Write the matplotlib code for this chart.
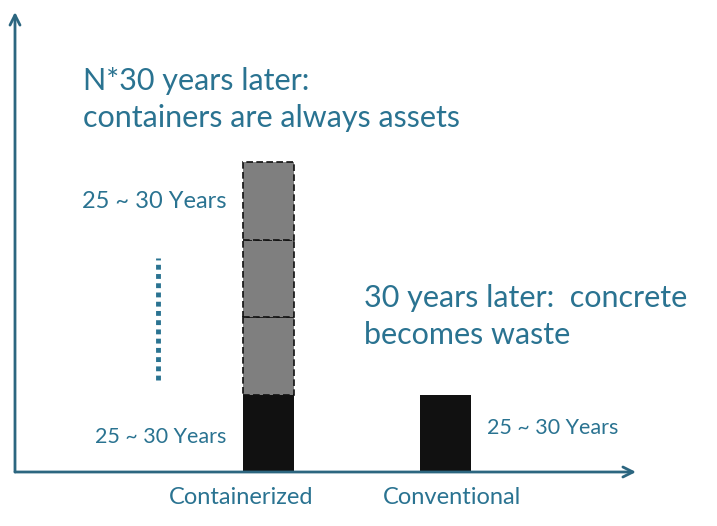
import matplotlib.pyplot as plt

# bar data: lifecycles of 25~30 years each
categories = ['Containerized', 'Conventional']
first_life = [1, 1]          # black: first 25~30 year life
reuse_lives = [1, 1, 1]      # gray dashed: reuse lifecycles (containerized only)
life_label = '25 ~ 30 Years'

teal = '#2a7391'
axis_col = '#2c6680'
plt.rcParams['font.family'] = ['Lato', 'DejaVu Sans']

W, H = 717, 526
fig = plt.figure(figsize=(W / 100, H / 100), dpi=100)
# origin at pixel (15, 472), x arrow to 636, y arrow to 12
ax = fig.add_axes([15 / W, (H - 472) / H, (636 - 15) / W, (472 - 12) / H])

px_y = 77.5   # pixels per lifecycle unit
px_x = 177.0  # pixels between bar centres
ax.set_ylim(0, 460 / px_y)
ax.set_xlim(-253.5 / px_x, 1 + (621 - 430.5) / px_x)

x = list(range(len(categories)))
bw = 51 / px_x
ax.bar(x, first_life, width=bw, color='#111111', edgecolor='none')
bottom = first_life[0]
for h in reuse_lives:
    ax.bar(x[0], h, width=bw, bottom=bottom, color='#7f7f7f',
           edgecolor='#111111', linestyle=(0, (4, 2)), linewidth=1.2)
    bottom += h

for s in ax.spines.values():
    s.set_visible(False)
ax.set_yticks([])
# category labels sit slightly off the bar centres in the original
ax.set_xticks([x[0] - 27.5 / px_x, x[1] + 6.5 / px_x])
ax.set_xticklabels(categories, color=teal, fontsize=17)
ax.tick_params(axis='x', length=0, pad=11)

arrow = dict(arrowstyle='->', color=axis_col, lw=2.0, mutation_scale=18,
             shrinkA=0, shrinkB=0)
ax.annotate('', xy=(1, 0), xytext=(0, 0), xycoords='axes fraction',
            arrowprops=arrow, annotation_clip=False)
ax.annotate('', xy=(0, 1), xytext=(0, 0), xycoords='axes fraction',
            arrowprops=arrow, annotation_clip=False)

# dotted "continuation" line
dx = (158 - 15 - 253.5) / px_x
ax.plot([dx, dx], [(472 - 380) / px_y, (472 - 258) / px_y], color=teal,
        lw=3.5, linestyle=(0, (1, 0.9)), solid_capstyle='butt')

def fx(p):
    return p / W

def fy(p):
    return 1 - p / H

# va='baseline' on multi-line text aligns the last line's baseline
fig.text(fx(83), fy(127), 'N*30 years later:\ncontainers are always assets',
         color=teal, fontsize=22, va='baseline', ha='left', linespacing=1.4)
fig.text(fx(364), fy(344), '30 years later:  concrete\nbecomes waste',
         color=teal, fontsize=22, va='baseline', ha='left', linespacing=1.38)

fig.text(fx(226), fy(201), life_label, color=teal, fontsize=17, ha='right', va='center')
fig.text(fx(226), fy(437), life_label, color=teal, fontsize=15.5, ha='right', va='center')
fig.text(fx(487), fy(428), life_label, color=teal, fontsize=15.5, ha='left', va='center')

fig.savefig('out.png', dpi=100, facecolor='white')
